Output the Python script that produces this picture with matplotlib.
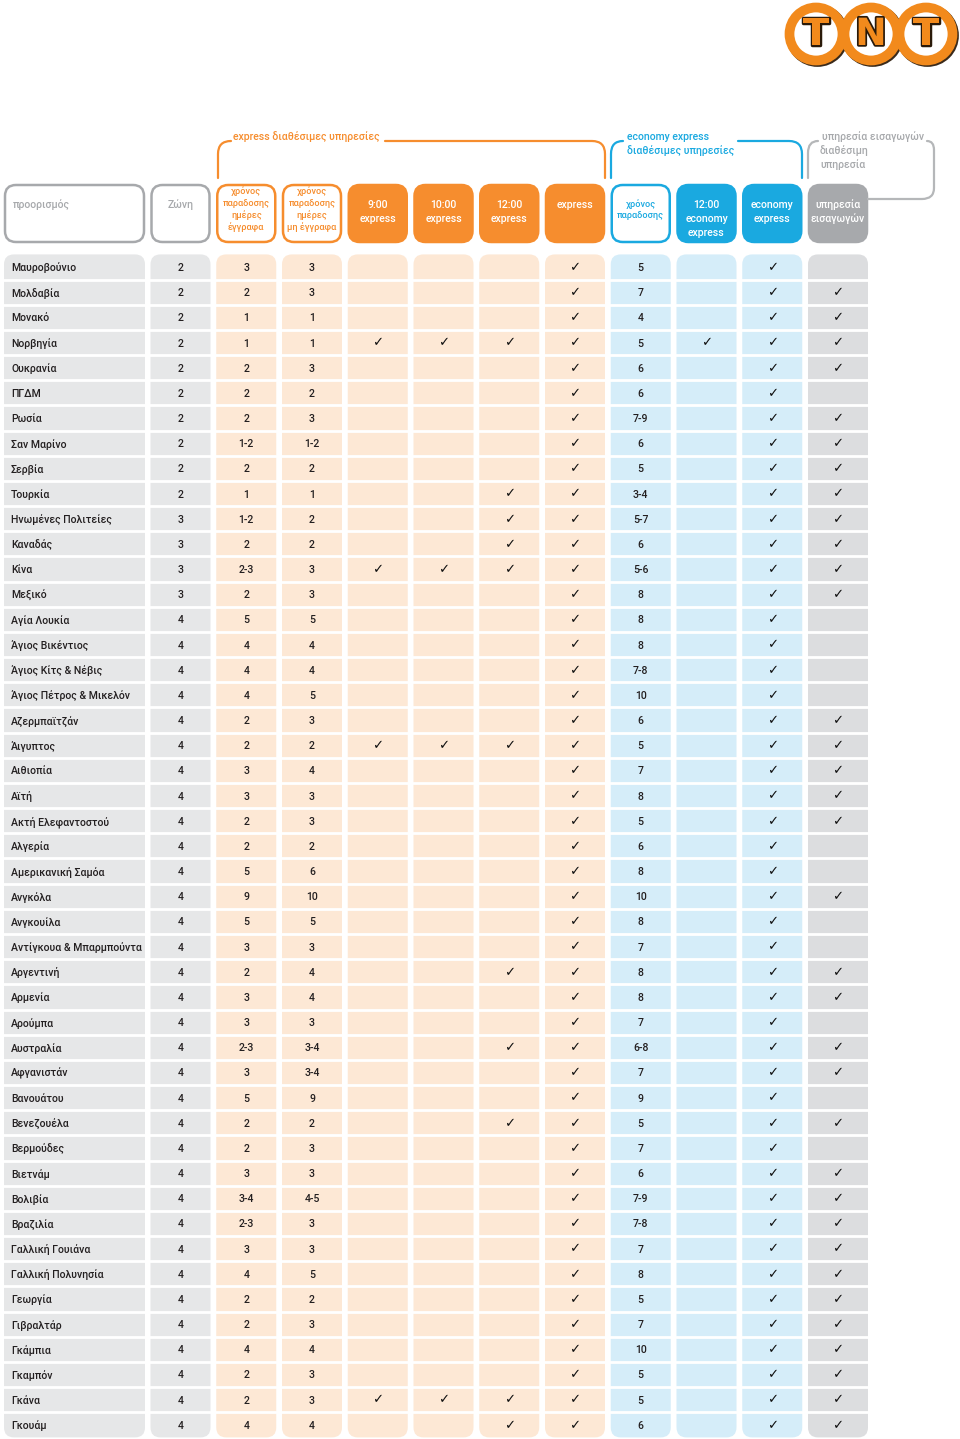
import matplotlib
matplotlib.use("Agg")
import matplotlib.pyplot as plt
import matplotlib.patheffects as pe
from matplotlib.patches import FancyBboxPatch, Circle, PathPatch
from matplotlib.path import Path

plt.rcParams["font.family"] = ["Roboto", "DejaVu Sans"]
plt.rcParams["font.weight"] = 500

# ---- table data ---------------------------------------------------------
destinations = [
    "Μαυροβούνιο", "Μολδαβία", "Μονακό", "Νορβηγία", "Ουκρανία", "ΠΓΔΜ",
    "Ρωσία", "Σαν Μαρίνο", "Σερβία", "Τουρκία", "Ηνωμένες Πολιτείες",
    "Καναδάς", "Κίνα", "Μεξικό", "Αγία Λουκία", "Άγιος Βικέντιος",
    "Άγιος Κίτς & Νέβις", "Άγιος Πέτρος & Μικελόν", "Αζερμπαϊτζάν",
    "Άιγυπτος", "Αιθιοπία", "Αϊτή", "Ακτή Ελεφαντοστού", "Αλγερία",
    "Αμερικανική Σαμόα", "Ανγκόλα", "Ανγκουίλα", "Αντίγκουα & Μπαρμπούντα",
    "Αργεντινή", "Αρμενία", "Αρούμπα", "Αυστραλία", "Αφγανιστάν",
    "Βανουάτου", "Βενεζουέλα", "Βερμούδες", "Βιετνάμ", "Βολιβία",
    "Βραζιλία", "Γαλλική Γουιάνα", "Γαλλική Πολυνησία", "Γεωργία",
    "Γιβραλτάρ", "Γκάμπια", "Γκαμπόν", "Γκάνα", "Γκουάμ",
]
zones = ["2"] * 10 + ["3"] * 4 + ["4"] * 33
doc_days = [
    "3", "2", "1", "1", "2", "2", "2", "1-2", "2", "1",
    "1-2", "2", "2-3", "2", "5", "4", "4", "4", "2", "2",
    "3", "3", "2", "2", "5", "9", "5", "3", "2", "3",
    "3", "2-3", "3", "5", "2", "2", "3", "3-4", "2-3", "3",
    "4", "2", "2", "4", "2", "2", "4",
]
nondoc_days = [
    "3", "3", "1", "1", "3", "2", "3", "1-2", "2", "1",
    "2", "2", "3", "3", "5", "4", "4", "5", "3", "2",
    "4", "3", "3", "2", "6", "10", "5", "3", "4", "4",
    "3", "3-4", "3-4", "9", "2", "3", "3", "4-5", "3", "3",
    "5", "2", "3", "4", "3", "3", "4",
]
econ_days = [
    "5", "7", "4", "5", "6", "6", "7-9", "6", "5", "3-4",
    "5-7", "6", "5-6", "8", "8", "8", "7-8", "10", "6", "5",
    "7", "8", "5", "6", "8", "10", "8", "7", "8", "8",
    "7", "6-8", "7", "9", "5", "7", "6", "7-9", "7-8", "7",
    "8", "5", "7", "10", "5", "5", "6",
]
# 1 = service available (check mark)
svc_0900 = [0, 0, 0, 1, 0, 0, 0, 0, 0, 0,
            0, 0, 1, 0, 0, 0, 0, 0, 0, 1,
            0, 0, 0, 0, 0, 0, 0, 0, 0, 0,
            0, 0, 0, 0, 0, 0, 0, 0, 0, 0,
            0, 0, 0, 0, 0, 1, 0]
svc_1000 = list(svc_0900)
svc_1200 = [0, 0, 0, 1, 0, 0, 0, 0, 0, 1,
            1, 1, 1, 0, 0, 0, 0, 0, 0, 1,
            0, 0, 0, 0, 0, 0, 0, 0, 1, 0,
            0, 1, 0, 0, 1, 0, 0, 0, 0, 0,
            0, 0, 0, 0, 0, 1, 1]
svc_express = [1] * 47
svc_econ_1200 = [0, 0, 0, 1] + [0] * 43
svc_econ = [1] * 47
svc_import = [0, 1, 1, 1, 1, 0, 1, 1, 1, 1,
              1, 1, 1, 1, 0, 0, 0, 0, 1, 1,
              1, 1, 1, 0, 0, 1, 0, 0, 1, 1,
              0, 1, 1, 0, 1, 0, 1, 1, 1, 1,
              1, 1, 1, 1, 1, 1, 1]

# ---- colours --------------------------------------------------------------
ORANGE = "#f68d2e"
PEACH = "#fde8d5"
BLUE = "#1aa9e0"
LIGHTBLUE = "#d5edf9"
GREY = "#a7a9ac"
LIGHTGREY = "#e6e7e8"
IMPGREY = "#dcdddf"
TEXT = "#231f20"

W, H = 960, 1439
fig = plt.figure(figsize=(W / 100, H / 100), dpi=100)
ax = fig.add_axes([0, 0, 1, 1])
ax.set_xlim(0, W)
ax.set_ylim(H, 0)
ax.axis("off")

# column geometry
pitch = 65.75
lefts = [4] + [150.5 + pitch * k for k in range(11)]
widths = [141] + [60] * 11
body_colors = [LIGHTGREY, LIGHTGREY] + [PEACH] * 6 + [LIGHTBLUE] * 3 + [IMPGREY]

row_y0, row_dy = 267, 25.17
n = len(destinations)
body_top = row_y0 - row_dy / 2
body_bot = row_y0 + row_dy * (n - 1) + row_dy / 2
DY = 1.0  # glyph centring offset
FS = 7.6


def rbox(x, y, w, h, fc, ec="none", lw=0, r=10, z=1):
    p = FancyBboxPatch((x, y), w, h, boxstyle=f"round,pad=0,rounding_size={r}",
                       fc=fc, ec=ec, lw=lw, zorder=z)
    ax.add_patch(p)


# body columns
for left, w, c in zip(lefts, widths, body_colors):
    rbox(left, body_top, w, body_bot - body_top, c)
for i in range(1, n):
    yb = row_y0 + row_dy * (i - 0.5)
    ax.hlines(yb, 0, 875, color="white", lw=2.0, zorder=2)


def check(x, y):
    ax.text(x, y + 0.5, "✓", ha="center", va="center", fontsize=9.5,
            color="#111111", family="DejaVu Sans", fontweight="normal", zorder=3)


# cell contents
text_cols = [zones, doc_days, nondoc_days]
check_cols = [svc_0900, svc_1000, svc_1200, svc_express]
for i in range(n):
    y = row_y0 + row_dy * i + DY
    ax.text(11, y, destinations[i], ha="left", va="center", fontsize=FS,
            color=TEXT, zorder=3)
    for k, col in enumerate(text_cols):
        ax.text(lefts[k + 1] + 30, y, col[i], ha="center", va="center", fontsize=FS,
                color=TEXT, zorder=3)
    for k, col in enumerate(check_cols):
        if col[i]:
            check(lefts[k + 4] + 30, y - DY)
    ax.text(lefts[8] + 30, y, econ_days[i], ha="center", va="center",
            fontsize=FS, color=TEXT, zorder=3)
    for k, col in enumerate([svc_econ_1200, svc_econ, svc_import]):
        if col[i]:
            check(lefts[k + 9] + 30, y - DY)

# ---- header boxes -------------------------------------------------------
hy, hh = 185, 57
headers = [
    ("προορισμός", "white", GREY, GREY),
    ("Ζώνη", "white", GREY, GREY),
    ("χρόνος\nπαραδοσης\nημέρες\nέγγραφα", "white", ORANGE, ORANGE),
    ("χρόνος\nπαραδοσης\nημέρες\nμη έγγραφα", "white", ORANGE, ORANGE),
    ("9:00\nexpress", ORANGE, ORANGE, "white"),
    ("10:00\nexpress", ORANGE, ORANGE, "white"),
    ("12:00\nexpress", ORANGE, ORANGE, "white"),
    ("express", ORANGE, ORANGE, "white"),
    ("χρόνος\nπαραδοσης", "white", BLUE, BLUE),
    ("12:00\neconomy\nexpress", BLUE, BLUE, "white"),
    ("economy\nexpress", BLUE, BLUE, "white"),
    ("υπηρεσία\nεισαγωγών", GREY, GREY, "white"),
]
for k, (label, fc, ec, tc) in enumerate(headers):
    rbox(lefts[k] + 1, hy, widths[k] - 2, hh, fc, ec=ec, lw=1.8, r=11, z=3)
    lines = label.split("\n")
    if k == 0:
        ax.text(13, 204 + DY, label, ha="left", va="center", fontsize=FS,
                color=tc, zorder=4)
        continue
    if len(lines) == 4:
        ys, fs = [190, 202, 214, 226], 6.6
    elif k == 8:
        ys, fs = [203, 215], 6.6
    else:
        ys, fs = [204 + 14 * j for j in range(len(lines))], FS
    for line, ly in zip(lines, ys):
        ax.text(lefts[k] + 30, ly + DY, line, ha="center", va="center",
                fontsize=fs, color=tc, zorder=4)

# ---- group brackets -----------------------------------------------------
M, L, C = Path.MOVETO, Path.LINETO, Path.CURVE3


def bracket(verts, codes, color):
    ax.add_patch(PathPatch(Path(verts, codes), fc="none", ec=color, lw=1.6,
                           capstyle="round", zorder=3))


bracket([(218, 178), (218, 154), (218, 141), (231, 141)], [M, L, C, C], ORANGE)
bracket([(385, 141), (592, 141), (605, 141), (605, 154), (605, 178)],
        [M, L, C, C, L], ORANGE)
bracket([(611, 178), (611, 154), (611, 141), (623, 141)], [M, L, C, C], BLUE)
bracket([(738, 141), (789, 141), (802, 141), (802, 154), (802, 178)],
        [M, L, C, C, L], BLUE)
bracket([(808, 178), (808, 153), (808, 141), (818, 141)], [M, L, C, C], "#b5b7b9")
bracket([(927, 141), (934, 141), (934, 150), (934, 188), (934, 199), (922, 199),
         (868, 199)], [M, C, C, L, C, C, L], "#b5b7b9")

ax.text(233, 136 + DY, "express διαθέσιμες υπηρεσίες", ha="left", va="center",
        fontsize=FS, color=ORANGE)
ax.text(627, 136 + DY, "economy express", ha="left", va="center", fontsize=FS, color=BLUE)
ax.text(627, 150 + DY, "διαθέσιμες υπηρεσίες", ha="left", va="center", fontsize=FS,
        color=BLUE)
ax.text(822, 136 + DY, "υπηρεσία εισαγωγών", ha="left", va="center", fontsize=FS,
        color=GREY)
ax.text(820, 150 + DY, "διαθέσιμη", ha="left", va="center", fontsize=FS, color=GREY)
ax.text(820, 164 + DY, "υπηρεσία", ha="left", va="center", fontsize=FS, color=GREY)

# ---- TNT logo -----------------------------------------------------------
for cx, letter in zip([816, 871, 926], "TNT"):
    ax.add_patch(Circle((cx + 1.5, 35.5), 26.5, fc="none", ec="#3a2a1a", lw=7, zorder=5))
    ax.add_patch(Circle((cx, 34), 26.5, fc="white", ec="#f28a1c", lw=7, zorder=6))
    ax.text(cx, 35, letter, ha="center", va="center", fontsize=27, fontweight="bold",
            family="DejaVu Sans", color="#f28a1c", zorder=7,
            path_effects=[pe.withStroke(linewidth=2.5, foreground="#2a1a0a")])

fig.savefig("out.png", dpi=100)
